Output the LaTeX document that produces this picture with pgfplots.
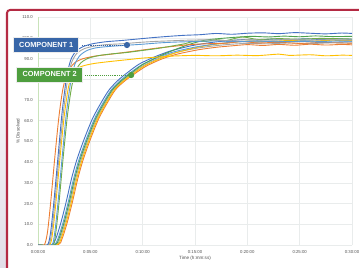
\documentclass[border=0pt]{standalone}
\usepackage{fontspec}
\setmainfont{Liberation Sans}
\usepackage{pgfplots}
\pgfplotsset{compat=1.18}
\definecolor{cblue}{HTML}{4472C4}
\definecolor{corange}{HTML}{ED7D31}
\definecolor{cgray}{HTML}{A5A5A5}
\definecolor{cyellow}{HTML}{FFC000}
\definecolor{clblue}{HTML}{5B9BD5}
\definecolor{cgreen}{HTML}{70AD47}
\definecolor{cdgreen}{HTML}{4EA24E}
\definecolor{frame}{HTML}{B42A43}
\definecolor{lav}{HTML}{E2DEE8}
\definecolor{boxblue}{HTML}{3866A8}
\definecolor{boxgreen}{HTML}{4E9E3E}
\definecolor{ticktext}{HTML}{505050}
\definecolor{gridc}{HTML}{E9ECEC}
\definecolor{yaxisc}{HTML}{C9E3BA}
\begin{document}
\begin{tikzpicture}[x=1bp,y=1bp]
\useasboundingbox (0,0) rectangle (359,268);
\shade[top color=white, bottom color=lav] (0,0) rectangle (8,268);
\fill[white, rounded corners=3bp] (7,-10) rectangle (370,258);
\draw[frame, line width=2bp, rounded corners=3bp] (7,-10) rectangle (370,258);
\begin{axis}[
  at={(38bp,23bp)}, anchor=south west,
  scale only axis, width=314bp, height=227.7bp,
  xmin=0, xmax=30, ymin=0, ymax=110,
  xtick={0,5,10,15,20,25,30},
  xticklabels={0:00:00,0:05:00,0:10:00,0:15:00,0:20:00,0:25:00,0:30:00},
  ytick={0,10,...,110},
  yticklabel={\pgfmathprintnumber[fixed,fixed zerofill,precision=1]{\tick}},
  /pgf/number format/assume math mode=true,
  axis line style={draw=none},
  major tick length=0pt,
  grid=major,
  major grid style={gridc, line width=0.6bp},
  tick label style={font=\fontsize{4.3}{5}\selectfont, text=ticktext},
  xticklabel style={anchor=center, yshift=-7bp},
  yticklabel style={anchor=east, inner sep=0pt, xshift=-5bp},
  xlabel={Time (h:mm:ss)},
  ylabel={\% Dissolved},
  every axis x label/.style={at={(axis description cs:0.5,-0.057)}, anchor=center, font=\fontsize{4.6}{5}\selectfont, text=ticktext},
  every axis y label/.style={at={(axis description cs:-0.064,0.5)}, anchor=center, rotate=90, font=\fontsize{4.6}{5}\selectfont, text=ticktext},
  clip mode=individual,
  every axis plot/.append style={line width=0.9bp, smooth, tension=0.45},
]
\addplot[yaxisc, line width=0.8bp, sharp plot] coordinates {(0,0)(0,110)};
% Component 2 (slow)
\addplot[corange] coordinates {(0,0)(1.9,0)(2.3,3)(2.8,11)(3.3,21)(3.8,32)(4.3,41)(5.0,51)(5.8,61)(6.6,68.5)(7.4,75)(8.3,79.3)(9.2,82.6)(10.3,86.3)(11.8,89.8)(13.3,92.2)(15.3,94.3)(17,95.5)(18.5,96.2)(20,96.8)(21.5,96.4)(23,96.9)(24.5,96.5)(26,97)(27.5,96.6)(29,96.9)(30,96.7)};
\addplot[cgray] coordinates {(0,0)(1.7,0)(2.1,3)(2.6,11)(3.1,21)(3.6,32)(4.1,41)(4.8,51)(5.6,61)(6.4,68.5)(7.2,75)(8.1,79.4)(9.0,82.9)(10.1,86.8)(11.6,90.3)(13.1,92.9)(15.1,95)(17,96.3)(18.5,97)(20,97.4)(22,97.2)(24,97.6)(26,97.3)(28,97.7)(30,97.5)};
\addplot[cyellow] coordinates {(0,0)(1.8,0)(2.2,3)(2.7,11)(3.2,21)(3.7,32)(4.2,41)(4.9,51)(5.7,61)(6.5,68.5)(7.3,75)(8.2,79.4)(9.1,82.8)(10.2,86.6)(11.7,90.1)(13.2,92.9)(15.2,95.5)(17,97)(18.5,97.9)(20,98.5)(22,98.3)(24,98.8)(26,98.5)(28,98.9)(30,98.7)};
\addplot[clblue] coordinates {(0,0)(1.5,0)(1.9,3)(2.4,11)(2.9,21)(3.4,32)(3.9,41)(4.6,51)(5.4,61)(6.2,68.5)(7.0,75)(7.9,79.6)(8.8,83.2)(9.9,87)(11.4,90.5)(12.9,93.2)(14.9,95.5)(16.5,96.8)(18,97.7)(19.5,98.3)(21,98)(22.5,98.5)(24,98.2)(25.5,98.7)(27,98.3)(28.5,98.6)(30,98.4)};
\addplot[cblue] coordinates {(0,0)(1.3,0)(1.7,3)(2.2,11)(2.7,21)(3.2,32)(3.7,41)(4.4,51)(5.2,61)(6.0,68.5)(6.8,75)(7.7,79.8)(8.6,83.5)(9.7,87.5)(11.2,91)(12.7,93.8)(14.7,96.3)(16.5,97.8)(18,98.6)(19.5,99.2)(21,99)(22.5,99.5)(24,99.2)(25.5,99.6)(27,99.3)(28.5,99.6)(30,99.4)};
\addplot[cdgreen] coordinates {(0,0)(1.6,0)(2.0,3)(2.5,11)(3.0,21)(3.5,32)(4.0,41)(4.7,51)(5.5,61)(6.3,68.5)(7.1,75)(8.0,79.5)(8.9,83)(10,87.2)(11.5,91)(13,94.2)(14.5,97)(16,99)(17.5,99.8)(19,100.4)(20.5,100.8)(22,100.5)(23.5,100.9)(25,100.6)(26.5,101)(28,100.7)(30,100.8)};
% Component 1 (fast)
\addplot[cyellow] coordinates {(0,0)(1.1,0)(1.4,6)(1.7,20)(2.1,42)(2.5,62)(2.9,76)(3.3,83)(3.8,85.5)(4.5,86.8)(5.5,87.8)(7,88.7)(8.5,89.5)(10,90.3)(11.5,90.8)(13,91.3)(15,91.6)(17,91.4)(19,91.7)(21,91.5)(23,92.2)(24,91.6)(26,91.9)(27.5,91.4)(29,91.7)(30,91.6)};
\addplot[corange] coordinates {(0,0)(0.6,0)(0.9,6)(1.2,20)(1.6,42)(2.0,62)(2.4,76)(2.9,84)(3.5,88)(4.3,90)(5.5,91.3)(7,92.2)(8.5,93.2)(10,94.2)(11.5,95.2)(13,96)(14.5,96.8)(16,97.2)(18,97.5)(19.5,98.3)(21,97.6)(23,97.9)(25,97.4)(27,97.8)(30,97.5)};
\addplot[cgreen] coordinates {(0,0)(1.4,0)(1.7,6)(2.0,20)(2.4,42)(2.8,62)(3.2,76)(3.6,84)(4.1,88)(4.8,90.2)(5.8,91.5)(7,92.3)(8.5,93)(10,94)(11.5,95)(13,96.3)(14,97.2)(15,98.5)(16,98.3)(17,99.2)(18,98.8)(19.5,100.5)(21,99.3)(23,99.7)(25,99.4)(27,99.8)(30,99.5)};
\addplot[clblue] coordinates {(0,0)(1.3,0)(1.6,6)(1.9,20)(2.3,42)(2.7,63)(3.1,78)(3.5,87)(4.0,91.5)(4.7,94)(5.6,95.3)(7,96)(8.5,96.5)(10,97)(11.5,97.6)(13,98)(15,98.3)(17,98.6)(19,98.2)(21,98.5)(23,98.1)(25,98.4)(27,98)(30,98.2)};
\addplot[cgray] coordinates {(0,0)(1.0,0)(1.3,6)(1.6,20)(2.0,42)(2.4,63)(2.8,79)(3.2,88)(3.7,92.5)(4.4,94.8)(5.3,96)(6.5,96.8)(8,97.2)(9.5,97.8)(11,98.3)(12.5,98.6)(14,98.9)(16,99.1)(18,98.8)(20,99.2)(22,98.9)(24,99.3)(26,99)(28,99.2)(30,99)};
\addplot[cblue] coordinates {(0,0)(0.9,0)(1.2,6)(1.5,20)(1.9,42)(2.3,64)(2.7,80)(3.1,89)(3.6,93.5)(4.3,95.8)(5.2,97.2)(6.5,98.2)(8,98.8)(9.5,99.5)(11,100.2)(12.5,100.8)(14,101.3)(15.5,101.6)(17,102.2)(18.5,101.8)(20,102.3)(21.5,102.5)(23,102.1)(24.5,102.6)(26,102.3)(27.5,102.0)(29,102.4)(30,102.2)};
% annotations
\addplot[boxblue, densely dotted, line width=1bp, sharp plot] coordinates {(4.2,96.6)(8.5,96.6)};
\addplot[boxblue, only marks, mark=*, mark size=2.6bp] coordinates {(8.5,96.6)};
\addplot[boxgreen, densely dotted, line width=1bp, sharp plot] coordinates {(4.5,82.1)(8.9,82.1)};
\addplot[boxgreen, only marks, mark=*, mark size=2.6bp] coordinates {(8.9,82.1)};
\node[anchor=east, fill=boxblue, draw=white!85!gray, line width=0.6bp, text=white, font=\fontsize{7.4}{8}\bfseries, minimum width=65bp, minimum height=15bp, inner sep=0pt] at (axis cs:3.92,96.5) {COMPONENT 1};
\node[anchor=east, fill=boxgreen, draw=white!85!gray, line width=0.6bp, text=white, font=\fontsize{7.4}{8}\bfseries, minimum width=66bp, minimum height=15bp, inner sep=0pt] at (axis cs:4.30,82.4) {COMPONENT 2};
\end{axis}
\end{tikzpicture}
\end{document}
